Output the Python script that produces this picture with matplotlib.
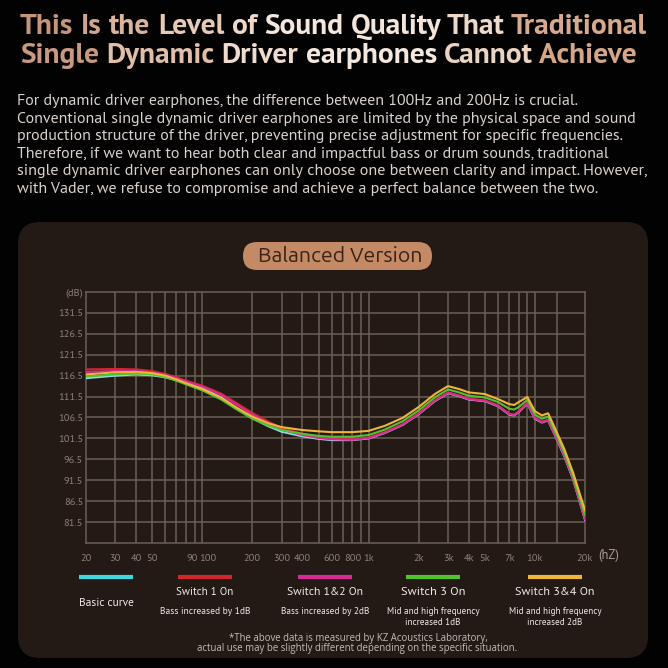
import matplotlib
matplotlib.use('Agg')
import matplotlib.pyplot as plt
from matplotlib import font_manager
from matplotlib.patches import FancyBboxPatch
from matplotlib.colors import to_rgb
from matplotlib.transforms import ScaledTranslation

# static (non-variable) font files only, so the weights really change
static = [f for f in font_manager.fontManager.ttflist if '[' not in f.fname]


def pick(cands, weight=400):
    for c in cands:
        for f in static:
            if f.name == c and f.style == 'normal' and str(f.weight) in (str(weight), {400: 'normal', 700: 'bold'}[weight]):
                return c
    return 'DejaVu Sans'


body_font = pick(['Source Sans Pro', 'PT Sans', 'Lato'])
title_font = pick(['Source Sans Pro', 'PT Sans', 'Lato'], 700)
badge_font = pick(['Ubuntu', 'Open Sans'])
note_font = pick(['Open Sans', 'Noto Sans'])

# frequency response data
freq = [20, 30, 40, 50, 60, 70, 80, 100, 130, 160, 200, 250, 300, 400, 500, 600,
        800, 1000, 1250, 1600, 2000, 2500, 3000, 3500, 4000, 5000, 6000, 7000,
        7500, 8000, 9000, 10000, 11000, 12000, 13000, 15000, 17000, 20000]

basic = [115.9, 116.5, 116.8, 116.6, 116.1, 115.4, 114.7, 113.5, 111.3, 108.8,
         106.3, 104.4, 103.1, 102.0, 101.4, 101.1, 101.1, 101.5, 102.8, 104.7,
         107.3, 110.4, 112.3, 111.6, 110.8, 110.4, 109.2, 107.2, 107.0, 107.8,
         109.8, 106.2, 105.3, 105.8, 102.8, 97.3, 91.6, 82.0]

switch1 = [118.0, 118.1, 118.0, 117.6, 116.9, 116.1, 115.3, 114.1, 112.2, 110.0,
           107.6, 105.5, 104.0, 102.6, 101.8, 101.4, 101.3, 101.7, 103.0, 104.9,
           107.5, 110.6, 112.5, 111.8, 111.0, 110.6, 109.4, 107.4, 107.2, 108.0,
           110.0, 106.4, 105.5, 106.0, 103.0, 97.8, 92.0, 82.3]

switch12 = [117.4, 117.6, 117.6, 117.3, 116.7, 115.9, 115.1, 113.9, 111.9, 109.6,
            107.2, 105.1, 103.6, 102.3, 101.6, 101.3, 101.2, 101.6, 102.9, 104.8,
            107.4, 110.5, 112.4, 111.7, 110.9, 110.5, 109.3, 107.3, 107.1, 107.9,
            109.9, 106.3, 105.4, 105.9, 102.9, 97.5, 91.8, 82.2]

switch3 = [116.3, 116.8, 117.0, 116.8, 116.2, 115.3, 114.4, 113.0, 110.8, 108.5,
           106.2, 104.6, 103.5, 102.6, 102.1, 101.9, 101.9, 102.3, 103.6, 105.6,
           108.2, 111.3, 113.2, 112.5, 111.7, 111.3, 110.2, 108.6, 108.4, 109.0,
           110.7, 107.2, 106.2, 106.7, 103.7, 98.2, 92.4, 83.2]

switch34 = [116.8, 117.3, 117.4, 117.1, 116.5, 115.6, 114.7, 113.3, 111.2, 108.9,
            106.7, 105.1, 104.2, 103.5, 103.2, 103.0, 103.0, 103.3, 104.5, 106.4,
            109.0, 112.1, 114.0, 113.3, 112.5, 112.1, 110.9, 109.7, 109.5, 110.2,
            111.4, 108.0, 107.0, 107.5, 104.5, 99.0, 93.2, 84.3]

series = [('Basic curve', basic, '#8cdce6'),
          ('Switch 1 On', switch1, '#d3262c'),
          ('Switch 1&2 On', switch12, '#d92a96'),
          ('Switch 3 On', switch3, '#52c22e'),
          ('Switch 3&4 On', switch34, '#f0b43a')]
legend_cols = ['#3ed6e0', '#d3262c', '#d92a96', '#52c22e', '#f0b43a']

y_ticks = [81.5, 86.5, 91.5, 96.5, 101.5, 106.5, 111.5, 116.5, 121.5, 126.5, 131.5, 136.5]
y_labels = ['81.5', '86.5', '91.5', '96.5', '101.5', '106.5', '111.5', '116.5',
            '121.5', '126.5', '131.5', '(dB)']
x_ticks = [20, 30, 40, 50, 90, 100, 200, 300, 400, 600, 800, 1000, 2000, 3000,
           4000, 5000, 7000, 10000, 20000]
x_labels = ['20', '30', '40', '50', '90', '100', '200', '300', '400', '600', '800',
            '1k', '2k', '3k', '4k', '5k', '7k', '10k', '20k']
x_grid = [30, 40, 50, 60, 70, 80, 90, 100, 200, 300, 400, 500, 600, 700, 800, 900,
          1000, 2000, 3000, 4000, 5000, 6000, 7000, 8000, 9000, 10000, 13500]

legend_titles = ['Basic curve', 'Switch 1 On', 'Switch 1&2 On', 'Switch 3 On', 'Switch 3&4 On']
legend_notes = [[], ['Bass increased by 1dB'], ['Bass increased by 2dB'],
                ['Mid and high frequency', 'increased 1dB'],
                ['Mid and high frequency', 'increased 2dB']]

title_lines = ['This Is the Level of Sound Quality That Traditional',
               'Single Dynamic Driver earphones Cannot Achieve']
para_lines = [
    'For dynamic driver earphones, the difference between 100Hz and 200Hz is crucial.',
    'Conventional single dynamic driver earphones are limited by the physical space and sound',
    'production structure of the driver, preventing precise adjustment for specific frequencies.',
    'Therefore, if we want to hear both clear and impactful bass or drum sounds, traditional',
    'single dynamic driver earphones can only choose one between clarity and impact. However,',
    'with Vader, we refuse to compromise and achieve a perfect balance between the two.',
]
para_ends = [581, 642, 630, 614, 652, 603]

W = 668
fig = plt.figure(figsize=(6.68, 6.68), dpi=100, facecolor='#030202')
rend = fig.canvas.get_renderer()

# background layer in pixel coordinates
bg = fig.add_axes([0, 0, 1, 1])
bg.set_xlim(0, W)
bg.set_ylim(W, 0)
bg.axis('off')


def text_w(s, size, **kw):
    t = bg.text(0, 0, s, fontsize=size, **kw)
    w = t.get_window_extent(renderer=rend).width
    t.remove()
    return w


def fit(x, y, s, width, **kw):
    size = 10 * width / text_w(s, 10, **kw)
    return bg.text(x, y, s, fontsize=size, **kw)


def grad(x):
    # tan -> white -> tan across the title
    stops = [(20, '#bf8a70'), (200, '#e9cdb9'), (330, '#f7eee6'), (470, '#eedbcc'), (647, '#c58b67')]
    for (x0, c0), (x1, c1) in zip(stops[:-1], stops[1:]):
        if x <= x1:
            f = max(0.0, (x - x0) / (x1 - x0))
            a, b = to_rgb(c0), to_rgb(c1)
            return tuple(a[k] + (b[k] - a[k]) * f for k in range(3))
    return to_rgb(stops[-1][1])


panel = FancyBboxPatch((18, 222), 630, 436, boxstyle='round,pad=0,rounding_size=22',
                       facecolor='#231a16', edgecolor='none')
bg.add_patch(panel)

# title, drawn word by word to get the colour gradient
tkw = dict(fontweight='bold', family=title_font, va='center', ha='left')
tsize = 10 * 627 / text_w(title_lines[0], 10, **tkw)
for i, line in enumerate(title_lines):
    words = line.split(' ')
    for j, wd in enumerate(words):
        full = text_w(' '.join(words[:j + 1]), tsize, **tkw)
        ww = text_w(wd, tsize, **tkw)
        x0 = 20 + full - ww
        bg.text(x0, 27 + i * 29, wd, fontsize=tsize, color=grad(x0 + ww / 2), **tkw)

for i, line in enumerate(para_lines):
    fit(17, 101 + i * 17.6, line, para_ends[i] - 17, family=body_font,
        color='#d9d1cc', ha='left', va='center')

badge = FancyBboxPatch((243, 242), 189, 28, boxstyle='round,pad=0,rounding_size=14',
                       facecolor='#c48a66', edgecolor='none')
bg.add_patch(badge)
fit(340, 256, 'Balanced Version', 164, family=badge_font,
    color='#3a2217', ha='center', va='center')

# legend row
leg_x = [106, 205, 325, 433, 555]
title_w = [55, 57, 76, 65, 80]
note_w = {'Bass increased by 1dB': 90, 'Bass increased by 2dB': 88,
          'Mid and high frequency': 93, 'increased 1dB': 55, 'increased 2dB': 55}
for i in range(5):
    bg.plot([leg_x[i] - 27, leg_x[i] + 27], [577, 577], color=legend_cols[i], lw=3.0,
            solid_capstyle='butt')
    ty = 603 if not legend_notes[i] else 592
    fit(leg_x[i], ty, legend_titles[i], title_w[i], family=body_font,
        color='#f0eae6', ha='center', va='center')
    for k, note in enumerate(legend_notes[i]):
        fit(leg_x[i], 611 + k * 11.5, note, note_w[note], family=body_font,
            color='#f0eae6', ha='center', va='center')

fit(358, 638, '*The above data is measured by KZ Acoustics Laboratory,', 258,
    color='#c4bcb6', ha='center', va='center', family=note_font)
fit(357, 648, 'actual use may be slightly different depending on the specific situation.', 320,
    color='#c4bcb6', ha='center', va='center', family=note_font)

bg.text(598, 556, '(hZ)', fontsize=9, family=body_font, color='#a89e96',
        ha='left', va='center')

# chart axes
ax = fig.add_axes([86 / W, 1 - 543 / W, 499 / W, 251 / W])
ax.set_facecolor('none')
ax.set_xscale('log')
ax.set_xlim(20, 20000)
ax.set_ylim(76.5, 136.5)

grid_col = '#6b5e54'
for xg in x_grid:
    ax.axvline(xg, color=grid_col, lw=1.1, zorder=1)
for yg in y_ticks[:-1]:
    ax.axhline(yg, color=grid_col, lw=1.1, zorder=1)
for sp in ax.spines.values():
    sp.set_color(grid_col)
    sp.set_linewidth(1.1)

ax.set_xticks(x_ticks, x_labels)
ax.set_xticks([], minor=True)
ax.set_yticks(y_ticks, y_labels)
ax.tick_params(axis='both', length=0, colors='#8c8078', labelsize=7.5)
ax.tick_params(axis='x', pad=8)
ax.tick_params(axis='y', pad=2)
for lab in ax.get_xticklabels() + ax.get_yticklabels():
    lab.set_family(body_font)
# "90" and "100" sit right next to each other
xl = ax.get_xticklabels()
xl[4].set_horizontalalignment('right')
xl[4].set_transform(xl[4].get_transform() + ScaledTranslation(3 / 100, 0, fig.dpi_scale_trans))
xl[5].set_horizontalalignment('left')
xl[5].set_transform(xl[5].get_transform() + ScaledTranslation(-3 / 100, 0, fig.dpi_scale_trans))

for name, vals, col in series:
    ax.plot(freq, vals, color=col, lw=1.5, zorder=3)

plt.savefig('out.png', dpi=100, facecolor=fig.get_facecolor())
